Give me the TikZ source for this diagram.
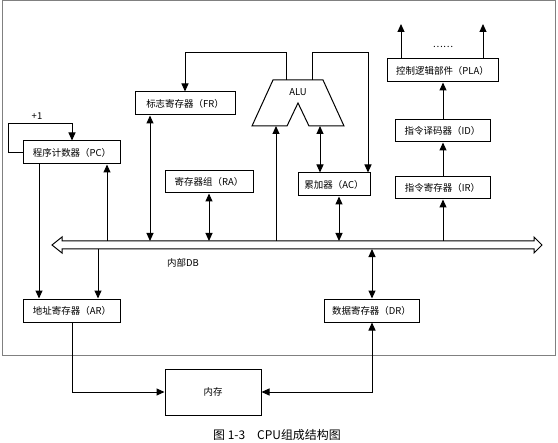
\documentclass[tikz,border=0pt]{standalone}
\usepackage{fontspec}
\setmainfont{Noto Sans CJK SC}
\usetikzlibrary{arrows.meta}
\begin{document}
\begin{tikzpicture}[x=1bp,y=-1bp,
  box/.style={draw, line width=1bp, inner sep=0pt, font=\fontsize{9.5}{10}\selectfont},
  lbl/.style={inner sep=0pt, font=\fontsize{9.5}{10}\selectfont},
  conn/.style={line width=1bp},
  arr/.style={conn, -{Triangle[width=7bp,length=8bp]}},
  darr/.style={conn, {Triangle[width=7bp,length=8bp]}-{Triangle[width=7bp,length=8bp]}}]
\useasboundingbox (0,0) rectangle (558,443);
% outer frame
\draw[line width=1bp, gray] (2,1) rectangle (555,355);
% boxes
\node[box, minimum width=96bp, minimum height=23bp] (pc) at (72,152.5) {程序计数器（PC）};
\node[box, minimum width=100bp, minimum height=23bp] (fr) at (185,103.5) {标志寄存器（FR）};
\node[box, minimum width=88bp, minimum height=22bp] (ra) at (209,182) {寄存器组（RA）};
\node[box, minimum width=72bp, minimum height=23bp] (ac) at (334,184.5) {累加器（AC）};
\node[box, minimum width=95bp, minimum height=22bp] (ir) at (442.5,188) {指令寄存器（IR）};
\node[box, minimum width=95bp, minimum height=22bp] (id) at (442.5,131) {指令译码器（ID）};
\node[box, minimum width=111bp, minimum height=23bp] (pla) at (442.5,70.5) {控制逻辑部件（PLA）};
\node[box, minimum width=96bp, minimum height=23bp] (ar) at (72,310.5) {地址寄存器（AR）};
\node[box, minimum width=95bp, minimum height=23bp] (dr) at (371.5,310.5) {数据寄存器（DR）};
\node[box, minimum width=96bp, minimum height=46bp] (mem) at (213,392) {内存};
% ALU
\draw[line width=1bp] (273,80) -- (323,80) -- (344,126) -- (309,126) -- (298,103) -- (287,126) -- (252,126) -- cycle;
\node[lbl] (alu) at (298,92) {ALU};
\coordinate (aluInL) at (276,126);
\coordinate (aluInR) at (320,126);
\coordinate (aluO1) at (286,80);
\coordinate (aluO2) at (312,80);
% bus
\draw[line width=1bp] (52,245) -- (62,237) -- (62,241) -- (534,241) -- (534,237) -- (542,245)
  -- (534,253) -- (534,249) -- (62,249) -- (62,253) -- cycle;
\coordinate (busT) at (0,241);
\coordinate (busB) at (0,249);
\node[lbl] (dblbl) at (183,263) {内部DB};
% +1 loop
\node[lbl] (plus) at (37,116) {+1};
\draw[arr] (pc.west) -- ++(-15,0) |- (72,124) -- (pc.north);
% PC / AR
\draw[arr] (39,0 |- pc.south) -- (39,0 |- ar.north);
\draw[arr] (107,0 |- busT) -- (107,0 |- pc.south);
\draw[arr] (98,0 |- busB) -- (98,0 |- ar.north);
% FR, RA
\draw[darr] (150,0 |- fr.south) -- (150,0 |- busT);
\draw[darr] (ra.south) -- (ra.south |- busT);
% ALU connections
\draw[arr] (276,0 |- busT) -- (aluInL);
\draw[darr] (aluInR) -- (320,0 |- ac.north);
\draw[darr] (339,0 |- ac.south) -- (339,0 |- busT);
\draw[arr] (aluO1) -- (286,53) -| (fr.north);
\draw[arr] (aluO2) -- (312,53) -| (368,0 |- ac.north);
% IR, ID, PLA
\draw[arr] (443,0 |- busT) -- (443,0 |- ir.south);
\draw[arr] (443,0 |- ir.north) -- (443,0 |- id.south);
\draw[arr] (443,0 |- id.north) -- (443,0 |- pla.south);
\coordinate (out1) at (401,24);
\coordinate (out2) at (483,24);
\draw[arr] (401,0 |- pla.north) -- (out1);
\draw[arr] (483,0 |- pla.north) -- (out2);
\node[lbl] (dots) at (443,47) {……};
% DR
\draw[darr] (372,0 |- busB) -- (372,0 |- dr.north);
% memory
\draw[arr] (ar.south) |- (mem.west);
\draw[darr] (mem.east) -| (372,0 |- dr.south);
% caption
\node[inner sep=0pt, font=\fontsize{12}{13}\selectfont] (cap) at (277,435) {图 1-3\quad CPU组成结构图};
\end{tikzpicture}
\end{document}
